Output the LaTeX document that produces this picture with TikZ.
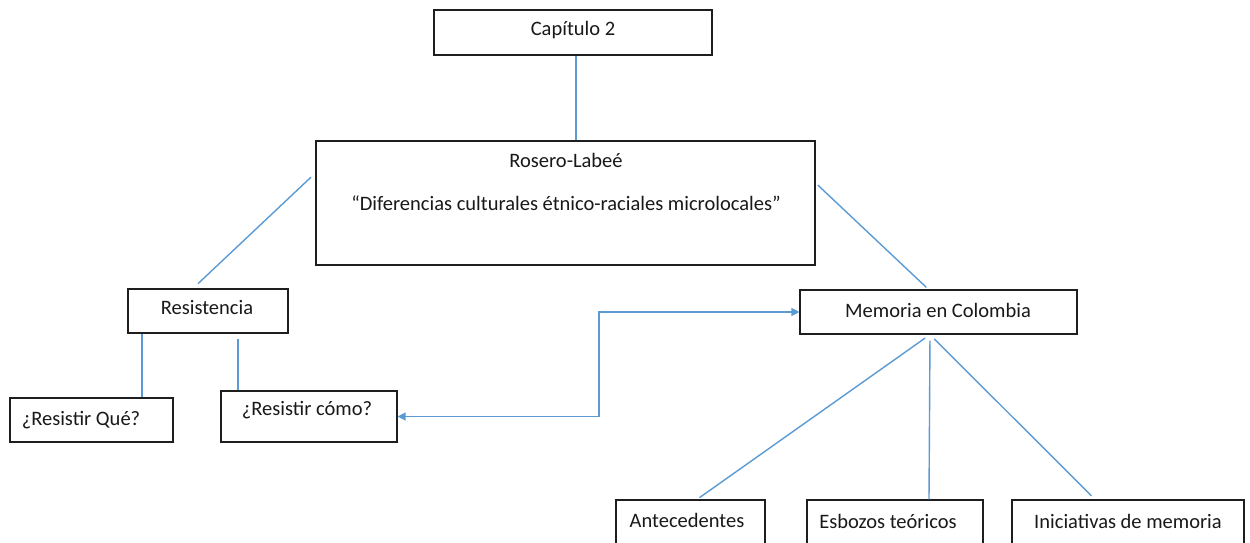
\documentclass[tikz,border=0pt]{standalone}
\usepackage{fontspec}
\setmainfont{Carlito}
\usetikzlibrary{arrows.meta,calc}
\definecolor{linkblue}{HTML}{5B9BD5}
\definecolor{boxline}{HTML}{1E1E1E}
\tikzset{
  box/.style={draw=boxline, line width=1.2pt, inner sep=0pt, fill=white},
  txt/.style={inner sep=0pt, anchor=center, font=\fontsize{20.5}{24}\selectfont, text=black!90},
  conn/.style={draw=linkblue, line width=1.4pt},
  tip/.style={-{Triangle[width=8pt,length=8pt]}}
}
\begin{document}
\begin{tikzpicture}[x=1pt,y=-1pt]
\useasboundingbox (0,0) rectangle (1250,543);
\clip (0,0) rectangle (1250,543);
\fill[white] (0,0) rectangle (1250,543);

% boxes
\node[box, minimum width=278pt, minimum height=45pt] (cap) at (573,32.5) {};
\node[box, minimum width=499pt, minimum height=124pt] (ros) at (565.5,203) {};
\node[box, minimum width=160pt, minimum height=44pt] (res) at (208,311) {};
\node[box, minimum width=163pt, minimum height=44pt] (rq) at (91.5,420) {};
\node[box, minimum width=176pt, minimum height=51pt] (rc) at (309,416.5) {};
\node[box, minimum width=277pt, minimum height=44pt] (mem) at (938.5,312) {};
\node[box, minimum width=149pt, minimum height=60pt] (ant) at (690.5,530) {};
\node[box, minimum width=176pt, minimum height=60pt] (esb) at (895,530) {};
\node[box, minimum width=232pt, minimum height=60pt] (ini) at (1128,530) {};

% texts
\node[txt] at (573,30) {Capítulo 2};
\node[txt] at (566,160) {Rosero-Labeé};
\node[txt] at (566,203) {“Diferencias culturales étnico-raciales microlocales”};
\node[txt] at (207,308) {Resistencia};
\node[txt] at (81,420) {¿Resistir Qué?};
\node[txt] at (307,410) {¿Resistir cómo?};
\node[txt] at (938,310) {Memoria en Colombia};
\node[txt] at (687,520) {Antecedentes};
\node[txt] at (888,521) {Esbozos teóricos};
\node[txt] at (1128,521) {Iniciativas de memoria};

% connectors
\draw[conn] (cap.south -| 576,0) -- (ros.north -| 576,0);
\draw[conn, shorten <=7pt, shorten >=6pt] ($(res.north)+(-15,0)$) -- ($(ros.west)+(0,-30)$);
\draw[conn, shorten <=3pt, shorten >=3pt] ($(ros.east)+(0,-20)$) -- ($(mem.north)+(-10,0)$);
\draw[conn] (res.south -| 142,0) -- (rq.north -| 142,0);
\draw[conn, shorten <=5pt] (res.south -| 238,0) -- (rc.north -| 238,0);
\draw[conn, tip] (rc.east -| 599,0) |- (mem.west);
\draw[conn, tip] (rc.east -| 599,0) -- (rc.east);
\draw[conn, shorten <=6pt, shorten >=3pt] (mem.south -| 930,0) -- ($(ant.north)+(6.5,0)$);
\draw[conn, shorten <=6pt] (mem.south -| 930,0) -- ($(esb.north)+(34,0)$);
\draw[conn, shorten <=6pt, shorten >=5pt] (mem.south -| 930,0) -- ($(ini.north)+(-33,0)$);
\end{tikzpicture}
\end{document}
